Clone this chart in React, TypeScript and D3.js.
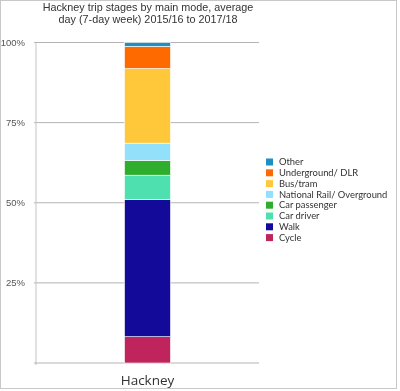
import React, { useRef, useEffect } from 'react'
import * as d3 from 'd3'

// share of trip stages, % (bottom to top)
const modes = ['Cycle', 'Walk', 'Car driver', 'Car passenger', 'National Rail/ Overground', 'Bus/tram', 'Underground/ DLR', 'Other']
const shares = [8.2, 42.8, 7.6, 4.6, 5.4, 23.3, 6.9, 1.2]
const colors = ['#c0245c', '#140a99', '#4fe0b0', '#2ead2e', '#93e0fa', '#ffc83a', '#ff6a00', '#1f8fc0']
const categories = ['Hackney']
const yTicks = [0.25, 0.5, 0.75, 1]
const titleLines = ['Hackney trip stages by main mode, average', 'day (7-day week) 2015/16 to 2017/18']

export default function App() {
  const svgRef = useRef<SVGSVGElement>(null)

  useEffect(() => {
    if (!svgRef.current) return
    const svg = d3.select(svgRef.current)
    svg.selectAll('*').remove()

    const W = 400, H = 391
    const left = 36, right = 259, top = 42.5, bottom = 363

    svg.append('rect')
      .attr('x', 0.5).attr('y', 0.5).attr('width', W - 4).attr('height', H - 3)
      .attr('fill', '#fff').attr('stroke', '#c8c8c8')

    // Title
    svg.append('g').selectAll('text')
      .data(titleLines)
      .join('text')
      .attr('x', 148).attr('y', (_, i) => 11 + i * 11.5)
      .attr('text-anchor', 'middle')
      .attr('font-family', 'Liberation Sans, Arial, sans-serif')
      .attr('font-size', 10.8)
      .attr('fill', '#333')
      .text(d => d)

    const total = d3.sum(shares)
    const stack = shares.map((v, i) => {
      const y0 = d3.sum(shares.slice(0, i)) / total
      return { mode: modes[i], y0, y1: y0 + v / total, color: colors[i] }
    })

    const x = d3.scaleBand().domain(categories).range([left, right]).paddingInner(0.658).paddingOuter(0.658)
    const y = d3.scaleLinear().domain([0, 1]).range([bottom, top])

    // Grid
    svg.append('g')
      .selectAll('line')
      .data(yTicks)
      .join('line')
      .attr('x1', left - 2).attr('x2', right)
      .attr('y1', d => y(d)).attr('y2', d => y(d))
      .attr('stroke', '#b4b4b4').attr('stroke-width', 1)

    svg.append('line')
      .attr('x1', left).attr('x2', left)
      .attr('y1', y(1)).attr('y2', y(0) + 2)
      .attr('stroke', '#c4c4c4')
    svg.append('line')
      .attr('x1', left - 2).attr('x2', right)
      .attr('y1', y(0)).attr('y2', y(0))
      .attr('stroke', '#b4b4b4')

    svg.append('g')
      .selectAll('text')
      .data(yTicks)
      .join('text')
      .attr('x', 25).attr('y', d => y(d) + 3.5)
      .attr('text-anchor', 'end')
      .attr('font-family', 'Liberation Sans, Arial, sans-serif')
      .attr('font-size', 9.5)
      .attr('fill', '#555')
      .text(d => d3.format('.0%')(d))

    // Stacked bar
    svg.append('g')
      .selectAll('rect')
      .data(stack)
      .join('rect')
      .attr('x', x('Hackney')!)
      .attr('width', x.bandwidth())
      .attr('y', d => y(d.y1))
      .attr('height', d => y(d.y0) - y(d.y1))
      .attr('fill', d => d.color)
      .attr('stroke', '#fff').attr('stroke-width', 0.6)

    svg.append('text')
      .attr('x', x('Hackney')! + x.bandwidth() / 2).attr('y', 385)
      .attr('text-anchor', 'middle')
      .attr('font-family', 'Open Sans, sans-serif')
      .attr('font-size', 13.5)
      .attr('fill', '#333')
      .text('Hackney')

    // Legend (top to bottom = reverse stack)
    const legend = svg.append('g')
      .selectAll('g')
      .data(stack.slice().reverse())
      .join('g')
      .attr('transform', (_, i) => `translate(266,${162 + i * 10.8})`)
    legend.append('rect')
      .attr('x', 0).attr('y', -3.5).attr('width', 7).attr('height', 7)
      .attr('fill', d => d.color)
    legend.append('text')
      .attr('x', 13).attr('y', 3.2)
      .attr('font-family', 'Lato, sans-serif')
      .attr('font-size', 9.4)
      .attr('fill', '#333')
      .text(d => d.mode)
  }, [])

  return (
    <svg ref={svgRef} width={400} height={391} style={{ position: 'fixed', left: 0, top: 0 }} />
  )
}
